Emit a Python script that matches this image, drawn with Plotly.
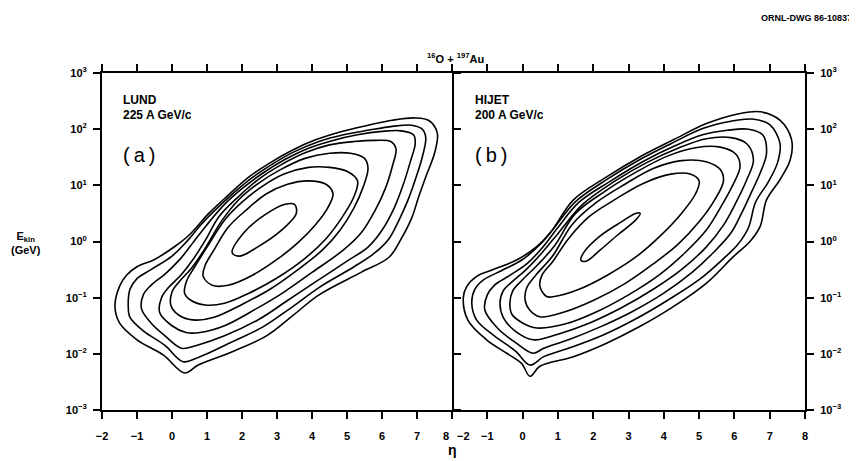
import plotly.graph_objects as go

# ---- tick data ----
ETA_TICKS = [-2, -1, 0, 1, 2, 3, 4, 5, 6, 7, 8]
E_TICKS = [1e-3, 1e-2, 1e-1, 1e0, 1e1, 1e2, 1e3]
E_TICK_TEXT = ["10<sup>−3</sup>", "10<sup>−2</sup>", "10<sup>−1</sup>", "10<sup>0</sup>",
               "10<sup>1</sup>", "10<sup>2</sup>", "10<sup>3</sup>"]

# ---- contour lines: (eta, log10 E_kin [GeV]) ----
LUND_C1 = [(-1.63,-1.15),(-1.5,-0.8),(-1.3,-0.6),(-1.0,-0.45),(-0.5,-0.32),(0.1,-0.08),(0.5,0.12),
           (1.05,0.5),(1.6,0.82),(2.2,1.15),(2.8,1.4),(3.45,1.63),(4.1,1.81),(4.85,1.96),(5.6,2.07),
           (6.3,2.16),(6.95,2.2),(7.35,2.15),(7.58,1.93),(7.5,1.57),(7.25,1.15),(7.05,0.8),(6.85,0.42),
           (6.55,0.05),(6.2,-0.28),(5.4,-0.55),(4.2,-0.95),(3.45,-1.32),(2.7,-1.68),(1.65,-1.98),
           (0.75,-2.2),(0.36,-2.34),(-0.25,-2.02),(-1.0,-1.75),(-1.5,-1.45),(-1.63,-1.15)]
LUND_C2 = [(-1.25,-1.15),(-1.2,-0.85),(-1.0,-0.66),(-0.6,-0.5),(0.0,-0.26),(0.45,0.02),(0.8,0.28),
           (1.2,0.54),(1.7,0.83),(2.3,1.14),(2.9,1.39),(3.5,1.6),(4.2,1.78),(4.9,1.9),(5.6,1.98),
           (6.3,2.05),(6.85,2.07),(7.15,2.0),(7.25,1.85),(7.15,1.5),(6.95,1.1),(6.75,0.75),(6.5,0.4),
           (6.2,0.05),(5.8,-0.2),(5.2,-0.45),(4.2,-0.82),(3.4,-1.18),(2.6,-1.52),(1.6,-1.82),
           (0.8,-2.05),(0.32,-2.14),(-0.2,-1.85),(-0.8,-1.6),(-1.2,-1.35),(-1.25,-1.15)]
LUND_C3 = [(-0.87,-1.2),(-0.82,-0.95),(-0.6,-0.78),(-0.2,-0.58),(0.25,-0.3),(0.6,-0.02),(1.0,0.3),
           (1.5,0.66),(2.0,0.94),(2.6,1.22),(3.2,1.45),(3.9,1.66),(4.6,1.8),(5.3,1.9),(6.0,1.96),
           (6.55,1.97),(6.9,1.9),(6.95,1.75),(6.8,1.4),(6.6,1.0),(6.35,0.6),(6.0,0.2),(5.6,-0.1),
           (5.0,-0.35),(4.1,-0.72),(3.3,-1.05),(2.5,-1.38),(1.5,-1.68),(0.7,-1.85),(0.27,-1.9),
           (-0.2,-1.68),(-0.6,-1.45),(-0.87,-1.2)]
LUND_C4 = [(-0.35,-1.27),(-0.3,-1.0),(-0.1,-0.82),(0.25,-0.6),(0.6,-0.32),(0.95,0.02),(1.35,0.45),
           (1.9,0.8),(2.5,1.12),(3.1,1.36),(3.8,1.58),(4.5,1.72),(5.2,1.78),(5.8,1.8),(6.25,1.78),
           (6.4,1.65),(6.3,1.35),(6.1,0.95),(5.8,0.55),(5.4,0.15),(4.9,-0.15),(4.0,-0.55),(3.2,-0.9),
           (2.4,-1.2),(1.5,-1.5),(0.8,-1.62),(0.4,-1.62),(0.0,-1.5),(-0.35,-1.27)]
LUND_C5 = [(-0.02,-1.16),(0.0,-0.9),(0.2,-0.72),(0.55,-0.48),(0.95,-0.12),(1.4,0.35),(1.9,0.74),
           (2.5,1.05),(3.1,1.28),(3.8,1.48),(4.5,1.57),(5.1,1.57),(5.5,1.48),(5.6,1.3),(5.45,0.95),
           (5.2,0.6),(4.8,0.2),(4.3,-0.15),(3.6,-0.5),(2.8,-0.85),(2.0,-1.12),(1.2,-1.35),(0.7,-1.4),
           (0.3,-1.35),(-0.02,-1.16)]
LUND_C6 = [(0.36,-0.92),(0.42,-0.7),(0.65,-0.45),(1.0,-0.1),(1.5,0.38),(2.0,0.7),(2.6,0.99),
           (3.2,1.2),(3.9,1.32),(4.5,1.32),(5.0,1.25),(5.3,1.08),(5.2,0.8),(4.85,0.42),(4.4,0.05),
           (3.8,-0.3),(3.0,-0.65),(2.2,-0.92),(1.5,-1.1),(0.95,-1.13),(0.55,-1.05),(0.36,-0.92)]
LUND_C7 = [(0.89,-0.62),(0.95,-0.42),(1.2,-0.15),(1.6,0.25),(2.1,0.55),(2.7,0.85),(3.3,1.02),
           (3.9,1.08),(4.4,1.02),(4.6,0.85),(4.45,0.6),(4.1,0.3),(3.6,-0.02),(3.0,-0.32),(2.3,-0.6),
           (1.6,-0.78),(1.15,-0.78),(0.89,-0.62)]
LUND_C8 = [(1.72,-0.2),(2.07,0.17),(2.64,0.47),(3.21,0.66),(3.5,0.66),(3.55,0.5),(3.07,0.17),
           (2.44,-0.1),(1.93,-0.26),(1.72,-0.2)]

HIJET_C1 = [(-1.68,-1.0),(-1.58,-0.8),(-1.3,-0.62),(-0.83,-0.5),(-0.17,-0.33),(0.4,-0.09),(0.78,0.15),
            (1.44,0.74),(2.38,1.15),(3.33,1.51),(4.27,1.81),(5.21,2.1),(6.16,2.28),(6.73,2.31),
            (7.29,2.16),(7.62,1.81),(7.58,1.45),(7.29,1.1),(6.91,0.74),(6.73,0.27),(6.44,0.0),
            (5.97,-0.27),(5.21,-0.74),(4.27,-1.16),(3.33,-1.51),(2.38,-1.81),(1.44,-2.05),(0.49,-2.22),
            (0.21,-2.4),(-0.03,-2.17),(-0.45,-1.99),(-1.02,-1.75),(-1.55,-1.4),(-1.68,-1.0)]
HIJET_C2 = [(-1.44,-1.1),(-1.35,-0.85),(-1.1,-0.68),(-0.6,-0.52),(0.0,-0.32),(0.5,-0.05),(0.9,0.25),
            (1.5,0.71),(2.4,1.11),(3.3,1.45),(4.2,1.74),(5.1,2.01),(5.9,2.14),(6.5,2.18),(7.0,2.08),
            (7.29,1.75),(7.22,1.4),(6.95,1.05),(6.6,0.7),(6.4,0.25),(6.1,-0.05),(5.7,-0.3),(5.0,-0.68),
            (4.1,-1.05),(3.2,-1.38),(2.3,-1.66),(1.4,-1.88),(0.6,-2.05),(0.21,-2.2),(-0.2,-1.95),
            (-0.8,-1.68),(-1.3,-1.4),(-1.44,-1.1)]
HIJET_C3 = [(-1.07,-1.22),(-1.0,-0.95),(-0.8,-0.78),(-0.35,-0.6),(0.15,-0.38),(0.6,-0.08),(1.0,0.25),
            (1.6,0.7),(2.5,1.08),(3.4,1.42),(4.3,1.7),(5.1,1.9),(5.8,1.98),(6.4,2.0),(6.8,1.9),
            (6.91,1.57),(6.75,1.25),(6.5,0.9),(6.2,0.5),(5.9,0.15),(5.4,-0.2),(4.8,-0.55),(4.0,-0.92),
            (3.1,-1.25),(2.2,-1.52),(1.3,-1.75),(0.6,-1.9),(0.3,-1.99),(-0.2,-1.8),(-0.7,-1.55),
            (-1.07,-1.22)]
HIJET_C4 = [(-0.64,-1.1),(-0.55,-0.88),(-0.3,-0.72),(0.1,-0.5),(0.55,-0.2),(1.0,0.14),(1.7,0.66),
            (2.6,1.07),(3.5,1.4),(4.4,1.66),(5.2,1.83),(5.9,1.85),(6.35,1.74),(6.54,1.45),(6.35,1.1),
            (6.05,0.7),(5.7,0.3),(5.2,-0.1),(4.5,-0.5),(3.7,-0.85),(2.8,-1.18),(1.9,-1.45),(1.0,-1.65),
            (0.3,-1.75),(-0.2,-1.6),(-0.55,-1.35),(-0.64,-1.1)]
HIJET_C5 = [(-0.36,-1.1),(-0.28,-0.88),(0.0,-0.68),(0.45,-0.4),(0.9,-0.08),(1.5,0.5),(2.3,0.88),
            (3.2,1.23),(4.1,1.52),(4.9,1.67),(5.6,1.68),(6.05,1.55),(6.16,1.33),(5.95,1.0),(5.6,0.6),
            (5.2,0.2),(4.6,-0.2),(3.9,-0.58),(3.0,-0.95),(2.1,-1.25),(1.2,-1.47),(0.4,-1.54),
            (0.0,-1.45),(-0.3,-1.3),(-0.36,-1.1)]
HIJET_C6 = [(0.07,-1.04),(0.12,-0.82),(0.4,-0.58),(0.85,-0.26),(1.4,0.3),(2.1,0.7),(2.9,1.02),
            (3.7,1.3),(4.5,1.44),(5.2,1.42),(5.6,1.28),(5.69,1.08),(5.45,0.75),(5.0,0.35),(4.4,-0.05),
            (3.7,-0.4),(2.9,-0.75),(2.0,-1.05),(1.2,-1.25),(0.49,-1.34),(0.2,-1.22),(0.07,-1.04)]
HIJET_C7 = [(0.49,-0.8),(0.55,-0.6),(0.85,-0.36),(1.3,0.05),(1.9,0.45),(2.6,0.74),(3.4,1.03),
            (4.2,1.2),(4.75,1.2),(5.0,1.08),(4.9,0.85),(4.5,0.5),(3.9,0.1),(3.2,-0.28),(2.4,-0.6),
            (1.6,-0.85),(0.9,-0.98),(0.68,-0.98),(0.49,-0.8)]
HIJET_C8 = [(1.65,-0.33),(1.75,-0.18),(2.2,0.1),(2.8,0.35),(3.2,0.5),(3.33,0.5),(3.2,0.38),
            (2.7,0.12),(2.2,-0.15),(1.8,-0.35),(1.65,-0.33)]

LUND_CONTOURS = [LUND_C1, LUND_C2, LUND_C3, LUND_C4, LUND_C5, LUND_C6, LUND_C7, LUND_C8]
HIJET_CONTOURS = [HIJET_C1, HIJET_C2, HIJET_C3, HIJET_C4, HIJET_C5, HIJET_C6, HIJET_C7, HIJET_C8]

fig = go.Figure()
for contours, xa, ya in [(LUND_CONTOURS, "x", "y"), (HIJET_CONTOURS, "x2", "y2")]:
    for c in contours:
        fig.add_trace(go.Scatter(
            x=[p[0] for p in c], y=[10 ** p[1] for p in c],
            mode="lines", line=dict(color="black", width=1.6, shape="spline", smoothing=1.0),
            xaxis=xa, yaxis=ya, showlegend=False, hoverinfo="skip"))

# The page body has an 8 px default margin: figure is sized/placed to compensate.
OFF = 8
W, H = 857 - OFF, 461 - OFF
L, T = 102 - OFF, 73 - OFF
R, B = W - (805 - OFF), H - (410 - OFF)
PW, PH = W - L - R, H - T - B
split = (452 - OFF - L) / PW

def px(x):
    return (x - OFF - L) / PW

def py(y):
    return (H - B - (y - OFF)) / PH

font_family = "Liberation Sans, Arial, sans-serif"
tickfont = dict(family=font_family, size=11, color="black", weight="bold")
xcommon = dict(range=[-2, 8], tickvals=ETA_TICKS,
               ticks="outside", ticklen=7, tickwidth=1.5, tickcolor="black",
               showline=True, linecolor="black", linewidth=2, mirror="ticks",
               showgrid=False, zeroline=False, tickfont=tickfont, automargin=False,
               ticklabelstandoff=8)
ycommon = dict(type="log", range=[-3, 3], tickvals=E_TICKS, ticktext=E_TICK_TEXT,
               ticks="outside", ticklen=7, tickwidth=1.5, tickcolor="black",
               showline=True, linecolor="black", linewidth=2,
               showgrid=False, zeroline=False, tickfont=tickfont, automargin=False,
               ticklabelstandoff=4)

lab = [str(v).replace("-", "−") for v in ETA_TICKS]
fig.update_layout(
    width=W, height=H, margin=dict(l=L, r=R, t=T, b=B, autoexpand=False),
    paper_bgcolor="white", plot_bgcolor="white",
    xaxis=dict(domain=[0, split], anchor="y", ticktext=lab[:-1] + [""], **xcommon),
    xaxis2=dict(domain=[split, 1], anchor="y2", ticktext=[""] + lab[1:], **xcommon),
    yaxis=dict(domain=[0, 1], anchor="x", side="left", mirror="ticks", **ycommon),
    yaxis2=dict(domain=[0, 1], anchor="x2", side="right", mirror=False, **ycommon),
)

ann = [
    dict(x=px(854), y=py(18), text="ORNL-DWG 86-10837", xanchor="right", font=dict(size=9, weight="bold")),
    dict(x=px(455), y=py(58), text="<sup>16</sup>O + <sup>197</sup>Au", xanchor="center", font=dict(size=11, weight="bold")),
    dict(x=px(121), y=py(100), text="LUND", xanchor="left", font=dict(size=12, weight="bold")),
    dict(x=px(121), y=py(115), text="225 A GeV/c", xanchor="left", font=dict(size=12, weight="bold")),
    dict(x=px(121), y=py(155), text="(\u2009a\u2009)", xanchor="left", font=dict(size=20)),
    dict(x=px(473), y=py(100), text="HIJET", xanchor="left", font=dict(size=12, weight="bold")),
    dict(x=px(473), y=py(115), text="200 A GeV/c", xanchor="left", font=dict(size=12, weight="bold")),
    dict(x=px(473), y=py(155), text="(\u2009b\u2009)", xanchor="left", font=dict(size=20)),
    dict(x=px(26), y=py(243), text="E<sub>kin</sub><br>(GeV)", xanchor="center", font=dict(size=11, weight="bold")),
    dict(x=px(452), y=py(450), text="η", xanchor="center", font=dict(size=14, weight="bold")),
    dict(x=px(451), y=py(436), text="8", xanchor="right", font=dict(size=11, weight="bold")),
    dict(x=px(455), y=py(436), text="−2", xanchor="left", font=dict(size=11, weight="bold")),
]
for a in ann:
    a.update(xref="paper", yref="paper", yanchor="middle", showarrow=False)
    a["font"].update(family=font_family, color="black")
fig.update_layout(annotations=ann)

fig.write_html("out.html")
